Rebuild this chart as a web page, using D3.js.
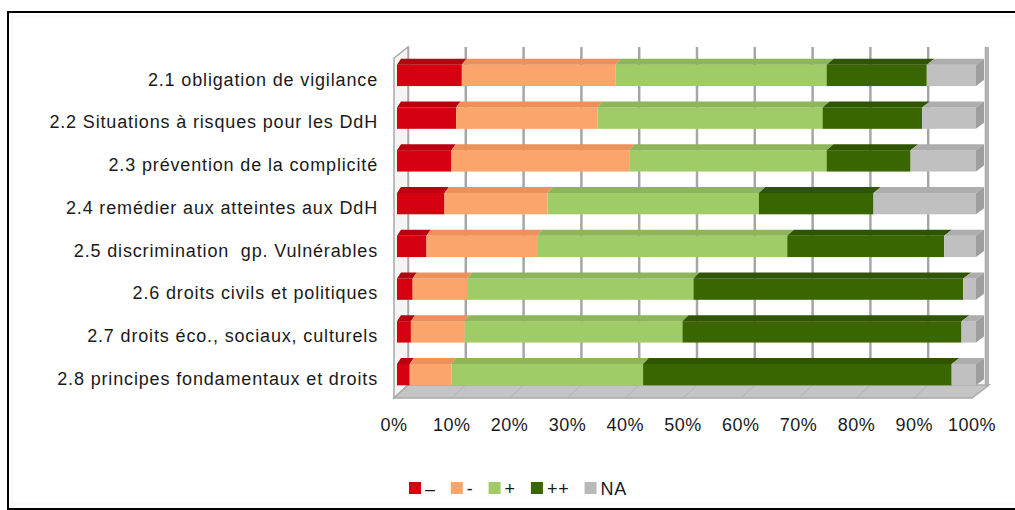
<!DOCTYPE html>
<html>
<head>
<meta charset="utf-8">
<script src="https://cdn.jsdelivr.net/npm/d3@7"></script>
<style>
  body { margin: 0; background: #fff; }
  text { font-family: "Liberation Sans", Arial, sans-serif; fill: #1a1a1a; white-space: pre; }
</style>
</head>
<body>
<svg id="chart" width="1015" height="510"></svg>
<script>
const categories = [
    "2.1 obligation de vigilance",
    "2.2 Situations à risques pour les DdH",
    "2.3 prévention de la complicité",
    "2.4 remédier aux atteintes aux DdH",
    "2.5 discrimination  gp. Vulnérables",
    "2.6 droits civils et politiques",
    "2.7 droits éco., sociaux, culturels",
    "2.8 principes fondamentaux et droits"
];
const seriesNames = ["–", "-", "+", "++", "NA"];
const tresNeg = [11.2, 10.2, 9.4, 8.2, 5.1, 2.7, 2.4, 2.2];
const neg     = [26.5, 24.4, 30.7, 17.8, 19.1, 9.4, 9.3, 7.2];
const pos     = [36.5, 38.9, 34.1, 36.5, 43.2, 39.1, 37.6, 33.1];
const tresPos = [17.3, 17.2, 14.5, 19.8, 27.1, 46.6, 48.2, 53.3];
const na      = [8.5, 9.3, 11.3, 17.7, 5.5, 2.2, 2.5, 4.2];
const ticks = [0, 10, 20, 30, 40, 50, 60, 70, 80, 90, 100];

const fronts = ["#d50010", "#fba46b", "#a0cc68", "#3a6600", "#c0c0c0"];
const tops   = ["#b8000e", "#ec915a", "#8cb659", "#2f5500", "#adadad"];

const svg = d3.select("#chart");

// outer frame
svg.append("rect").attr("x", 12).attr("y", 16).attr("width", 1010).attr("height", 488)
    .attr("fill", "none").attr("stroke", "#f3f3f3");
svg.append("rect").attr("x", 8).attr("y", 12).attr("width", 1020).attr("height", 497)
    .attr("fill", "none").attr("stroke", "#000").attr("stroke-width", 2);

// scales: front plane of bars, back wall, floor front edge
const xBar = d3.scaleLinear().domain([0, 100]).range([397, 976]);
const xBack = d3.scaleLinear().domain([0, 100]).range([408, 986]);
const xFloor = d3.scaleLinear().domain([0, 100]).range([394, 972]);
const y = d3.scaleBand().domain(categories).range([54, 396]).paddingInner(0.5).paddingOuter(0.25);
const wallTop = 47, wallBottom = 385, floorFront = 398;

// back wall gridlines
svg.append("g").selectAll("line").data(ticks).enter().append("line")
    .attr("x1", d => xBack(d)).attr("x2", d => xBack(d))
    .attr("y1", wallTop).attr("y2", wallBottom)
    .attr("stroke", "#a6a6a6").attr("stroke-width", 2.5);

// left wall
svg.append("path")
    .attr("d", `M${xFloor(0)},${floorFront} L${xFloor(0)},${wallTop + 11} L${xBack(0)},${wallTop} L${xBack(0)},${wallBottom} Z`)
    .attr("fill", "#f4f4f4").attr("stroke", "#a8a8a8").attr("stroke-width", 1.5);

// right wall edge
svg.append("rect").attr("x", xBack(100)).attr("y", wallTop).attr("width", 3).attr("height", wallBottom - wallTop)
    .attr("fill", "#b4b4b4");

// floor
svg.append("path")
    .attr("d", `M${xFloor(0)},${floorFront} L${xBack(0)},${wallBottom} L${xBack(100) + 3},${wallBottom} L${xFloor(100)},${floorFront} Z`)
    .attr("fill", "#c4c4c4").attr("stroke", "#a9a9a9").attr("stroke-width", 1.5);
svg.append("g").selectAll("line").data(ticks.slice(1, -1)).enter().append("line")
    .attr("x1", d => xBack(d)).attr("y1", wallBottom)
    .attr("x2", d => xFloor(d)).attr("y2", floorFront)
    .attr("stroke", "#b2b2b2").attr("stroke-width", 1);

// stacked bars
const seriesVals = [tresNeg, neg, pos, tresPos, na];
const rows = categories.map((c, i) => {
    let acc = 0;
    return { cat: c, segs: seriesVals.map((s, k) => {
        const seg = { k: k, x0: acc, x1: acc + s[i] };
        acc += s[i];
        return seg;
    }) };
});

const depthY = 6;
function depthX(px) { return 4 + 4 * (px - xBar(0)) / (xBar(100) - xBar(0)); }

const bars = svg.append("g");
rows.forEach(r => {
    const yt = y(r.cat), yb = y(r.cat) + y.bandwidth();
    r.segs.forEach(s => {
        const a = xBar(s.x0), b = xBar(s.x1);
        bars.append("rect").attr("x", a).attr("y", yt).attr("width", b - a).attr("height", yb - yt)
            .attr("fill", fronts[s.k]);
        bars.append("path")
            .attr("d", `M${a},${yt} L${b},${yt} L${b + depthX(b)},${yt - depthY} L${a + depthX(a)},${yt - depthY} Z`)
            .attr("fill", tops[s.k]);
    });
    const e = xBar(100), dx = depthX(e);
    bars.append("path")
        .attr("d", `M${e},${yt} L${e + dx},${yt - depthY} L${e + dx},${yb - depthY} L${e},${yb} Z`)
        .attr("fill", "#9e9e9e");
});

// category labels
svg.append("g").selectAll("text").data(categories).enter().append("text")
    .attr("x", 378).attr("y", d => y(d) + y.bandwidth() / 2 + 4)
    .attr("dy", "0.35em").attr("text-anchor", "end")
    .style("font-size", "18px").style("letter-spacing", "0.85px").text(d => d);

// tick labels
svg.append("g").selectAll("text").data(ticks).enter().append("text")
    .attr("x", d => xFloor(d)).attr("y", 431)
    .attr("text-anchor", "middle").style("font-size", "18px").style("letter-spacing", "0.5px")
    .text(d => d + "%");

// legend
const legend = svg.append("g");
let lx = 409;
seriesNames.forEach((n, k) => {
    legend.append("rect").attr("x", lx).attr("y", 482).attr("width", 12).attr("height", 12)
        .attr("fill", k === 4 ? "#b8b8b8" : fronts[k]);
    const t = legend.append("text").attr("x", lx + 16).attr("y", 495)
        .style("font-size", "18px").style("letter-spacing", "0.8px").text(n);
    lx += 16 + t.node().getComputedTextLength() + 15;
});
</script>
</body>
</html>
